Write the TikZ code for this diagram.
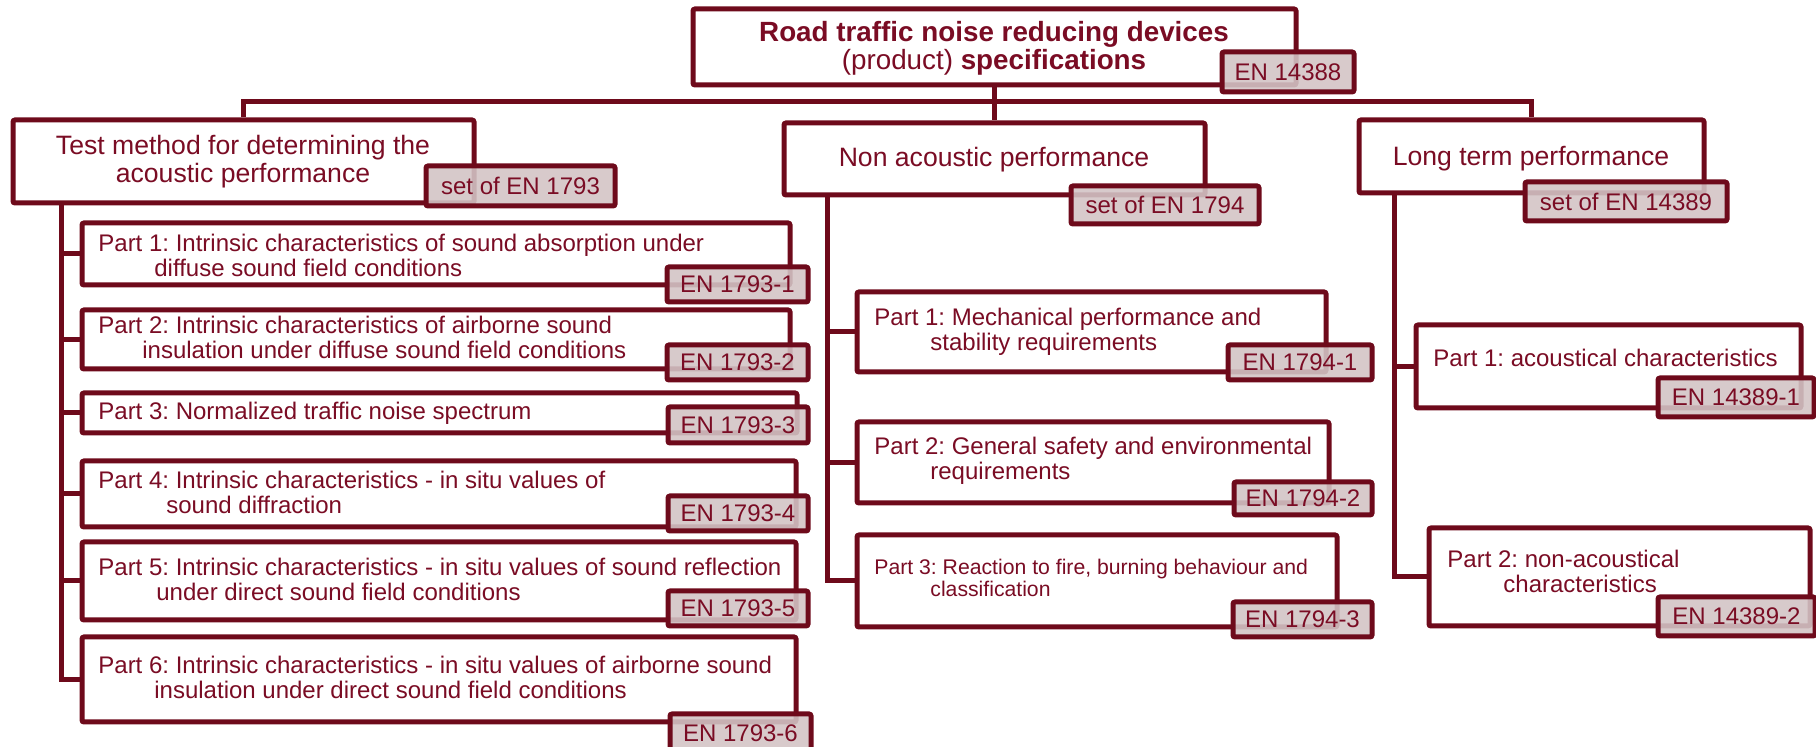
\documentclass[tikz,border=0pt]{standalone}
\usepackage{fontspec}
\setmainfont{Liberation Sans}
\usetikzlibrary{fit}
\frenchspacing

\definecolor{nline}{RGB}{110,10,27}
\definecolor{ntext}{RGB}{122,12,36}
\definecolor{tagfill}{RGB}{211,196,197}

\begin{document}
\begin{tikzpicture}[x=0.5pt, y=-0.5pt,
  box/.style={draw=nline, line width=2.5pt, fill=white, rounded corners=1pt, inner sep=0pt},
  tag/.style={draw=nline, line width=2.5pt, fill=tagfill, fill opacity=0.89,
    rounded corners=1pt, inner sep=0pt, label={[tagtxt]center:#1}},
  tagtxt/.style={text=ntext, font=\fontsize{12}{14}\selectfont, inner sep=0pt},
  txt/.style={text=ntext, font=\fontsize{12}{12.5}\selectfont, align=left, inner sep=0pt, anchor=base west},
  head/.style={text=ntext, font=\fontsize{13.3}{14}\selectfont, align=center, inner sep=0pt, anchor=base},
  link/.style={draw=nline, line width=2.5pt}]

\useasboundingbox (0,0) rectangle (1816,747);

% Standard on top (multi-line texts sit on the baseline of their last line)
\node[box, fit={(693,9) (1296,85)}] (root) {};
\node[head, font=\fontsize{13.9}{14}\selectfont] (roottxt) at (994,70)
  {\textbf{Road traffic noise reducing devices}\\(product) \textbf{specifications}};

% Three groups
\node[box, fit={(13,120) (474,203)}] (lhead) {};
\node[head] (lheadtxt) at (243,183) {Test method for determining the\\acoustic performance};
\node[box, fit={(784,123) (1205,195)}] (mhead) {};
\node[head] (mheadtxt) at (994,167) {Non acoustic performance};
\node[box, fit={(1359,120) (1704,193)}] (rhead) {};
\node[head] (rheadtxt) at (1531,166) {Long term performance};

% Left group: EN 1793 parts
\node[box, fit={(82,223) (790,285)}] (lp1) {};
\node[txt] (lp1txt) at (98,277) {Part 1: Intrinsic characteristics of sound absorption under\\\hspace*{28pt}diffuse sound field conditions};
\node[box, fit={(82,310) (790,369)}] (lp2) {};
\node[txt] (lp2txt) at (98,359) {Part 2: Intrinsic characteristics of airborne sound\\\hspace*{22pt}insulation under diffuse sound field conditions};
\node[box, fit={(82,393) (797,433)}] (lp3) {};
\node[txt] (lp3txt) at (98,420) {Part 3: Normalized traffic noise spectrum};
\node[box, fit={(82,461) (796,527)}] (lp4) {};
\node[txt] (lp4txt) at (98,514) {Part 4: Intrinsic characteristics - in situ values of\\\hspace*{34pt}sound diffraction};
\node[box, fit={(82,542) (796,620)}] (lp5) {};
\node[txt] (lp5txt) at (98,601) {Part 5: Intrinsic characteristics - in situ values of sound reflection\\\hspace*{29pt}under direct sound field conditions};
\node[box, fit={(82,637) (796,722)}] (lp6) {};
\node[txt] (lp6txt) at (98,699) {Part 6: Intrinsic characteristics - in situ values of airborne sound\\\hspace*{28pt}insulation under direct sound field conditions};

% Middle group: EN 1794 parts
\node[box, fit={(857,292) (1326,372)}] (mp1) {};
\node[txt] (mp1txt) at (874,351) {Part 1: Mechanical performance and\\\hspace*{28pt}stability requirements};
\node[box, fit={(857,422) (1329,503)}] (mp2) {};
\node[txt] (mp2txt) at (874,480) {Part 2: General safety and environmental\\\hspace*{28pt}requirements};
\node[box, fit={(857,535) (1337,627)}] (mp3) {};
\node[txt, font=\fontsize{10.6}{11}\selectfont] (mp3txt) at (874,597) {Part 3: Reaction to fire, burning behaviour and\\\hspace*{28pt}classification};

% Right group: EN 14389 parts
\node[box, fit={(1416,325) (1801,408)}] (rp1) {};
\node[txt] (rp1txt) at (1433,367) {Part 1: acoustical characteristics};
\node[box, fit={(1429,528) (1810,626)}] (rp2) {};
\node[txt] (rp2txt) at (1447,593) {Part 2: non-acoustical\\\hspace*{28pt}characteristics};

% Bus and trunks
\draw[link] (root.south) -- (mhead.north);
\draw[link] (lhead.north) -- ++(0,-16) -| (rhead.north);

\coordinate (ltrunk) at (61,203);
\coordinate (mtrunk) at (827,195);
\coordinate (rtrunk) at (1394,193);
\draw[link] (ltrunk) |- (lp6.west);
\foreach \n in {lp1,lp2,lp3,lp4,lp5}
  \draw[link] (ltrunk |- \n.west) -- (\n.west);
\draw[link] (mtrunk) |- (mp3.west);
\foreach \n in {mp1,mp2}
  \draw[link] (mtrunk |- \n.west) -- (\n.west);
\draw[link] (rtrunk) |- (rp2.west);
\draw[link] (rtrunk |- rp1.west) -- (rp1.west);

% Standard numbers
\node[tag=EN 14388, fit={(1222,52) (1354,92)}] (roottag) {};
\node[tag=set of EN 1793, fit={(426,166) (615,206)}] (ltag) {};
\node[tag=set of EN 1794, fit={(1071,186) (1259,224)}] (mtag) {};
\node[tag=set of EN 14389, fit={(1525,182) (1727,221)}] (rtag) {};

\node[tag=EN 1793-1, fit={(667,267) (808,302)}] (lp1tag) {};
\node[tag=EN 1793-2, fit={(667,345) (808,380)}] (lp2tag) {};
\node[tag=EN 1793-3, fit={(668,407) (808,443)}] (lp3tag) {};
\node[tag=EN 1793-4, fit={(668,496) (808,531)}] (lp4tag) {};
\node[tag=EN 1793-5, fit={(668,591) (808,626)}] (lp5tag) {};
\node[tag=EN 1793-6, fit={(670,714) (811,752)}] (lp6tag) {};

\node[tag=EN 1794-1, fit={(1228,345) (1372,380)}] (mp1tag) {};
\node[tag=EN 1794-2, fit={(1234,482) (1372,515)}] (mp2tag) {};
\node[tag=EN 1794-3, fit={(1233,602) (1372,637)}] (mp3tag) {};

\node[tag=EN 14389-1, fit={(1658,378) (1814,417)}] (rp1tag) {};
\node[tag=EN 14389-2, fit={(1658,597) (1815,636)}] (rp2tag) {};

\end{tikzpicture}
\end{document}
